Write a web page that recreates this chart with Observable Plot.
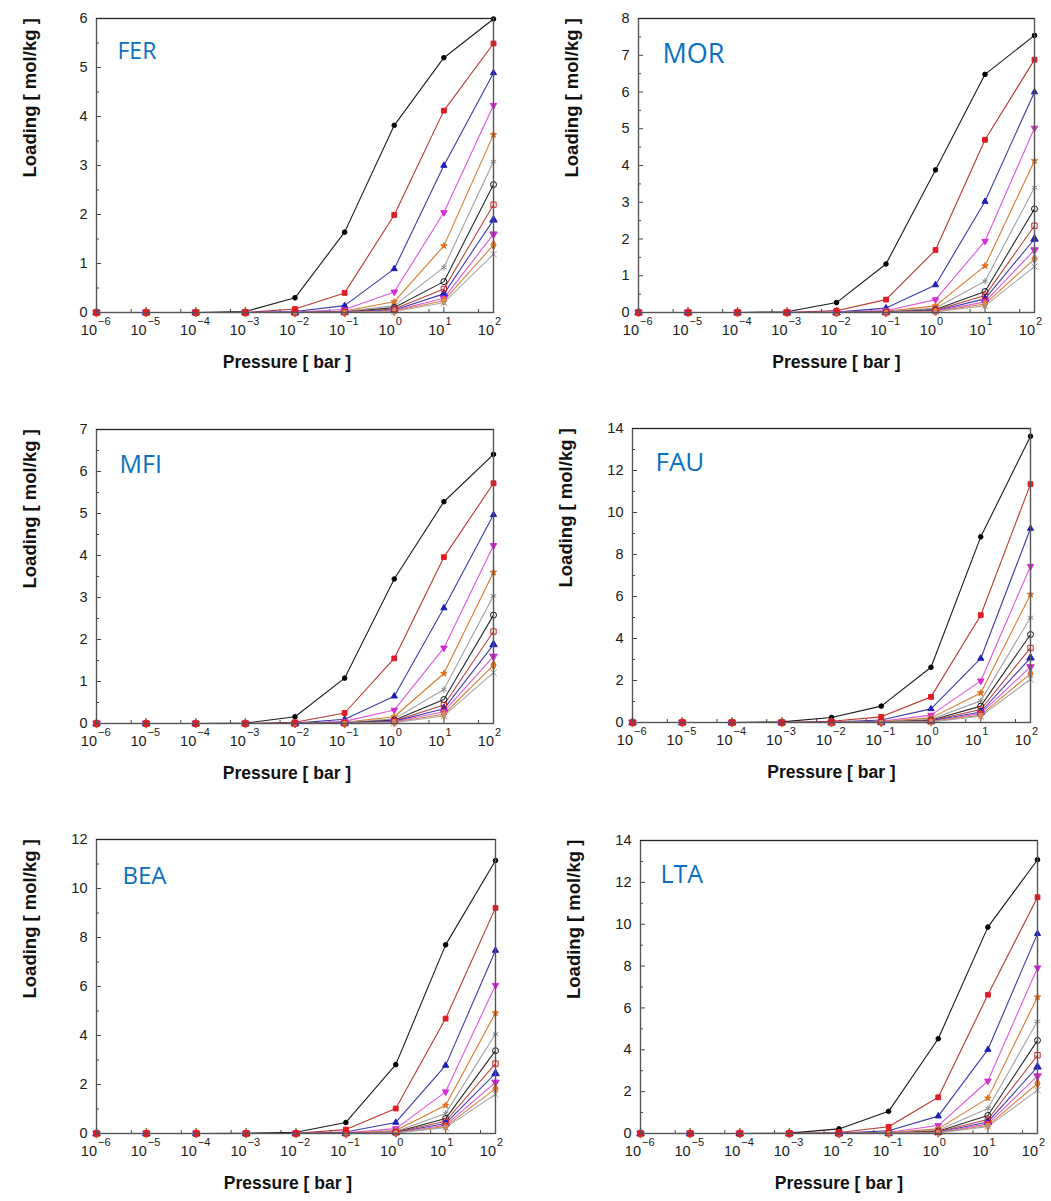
<!DOCTYPE html>
<html><head><meta charset="utf-8">
<script src="https://cdn.jsdelivr.net/npm/d3@7"></script>
<script src="https://cdn.jsdelivr.net/npm/@observablehq/plot@0.6"></script>
<style>
html,body{margin:0;padding:0;background:#fff;}
#root{position:relative;width:1051px;height:1201px;overflow:hidden;background:#fff;}
.panel{position:absolute;}
</style></head><body><div id="root"></div>
<script>
// ---------- DATA ----------
const pressures = [1e-6, 1e-5, 1e-4, 1e-3, 1e-2, 1e-1, 1, 10, 100];
const pressureExponents = ["−6", "−5", "−4", "−3", "−2", "−1", "0", "1", "2"];
const minorPressures = [5e-6, 5e-5, 5e-4, 5e-3, 5e-2, 5e-1, 5, 50];

const FER = [
  [0, 0, 0, 0.02, 0.30, 1.64, 3.82, 5.20, 5.99],
  [0, 0, 0, 0, 0.07, 0.40, 1.99, 4.12, 5.49],
  [0, 0, 0, 0, 0.02, 0.14, 0.89, 3.00, 4.89],
  [0, 0, 0, 0, 0.01, 0.06, 0.42, 2.04, 4.23],
  [0, 0, 0, 0, 0, 0.03, 0.22, 1.36, 3.63],
  [0, 0, 0, 0, 0, 0.02, 0.14, 0.92, 3.08],
  [0, 0, 0, 0, 0, 0.01, 0.10, 0.63, 2.61],
  [0, 0, 0, 0, 0, 0.01, 0.07, 0.48, 2.20],
  [0, 0, 0, 0, 0, 0.01, 0.05, 0.38, 1.89],
  [0, 0, 0, 0, 0, 0, 0.04, 0.29, 1.60],
  [0, 0, 0, 0, 0, 0, 0.03, 0.24, 1.38],
  [0, 0, 0, 0, 0, 0, 0.02, 0.20, 1.19]
];
const MOR = [
  [0, 0, 0, 0.02, 0.27, 1.32, 3.88, 6.48, 7.54],
  [0, 0, 0, 0, 0.05, 0.35, 1.70, 4.70, 6.88],
  [0, 0, 0, 0, 0.01, 0.12, 0.75, 3.02, 6.00],
  [0, 0, 0, 0, 0.01, 0.05, 0.35, 1.94, 5.02],
  [0, 0, 0, 0, 0, 0.03, 0.18, 1.27, 4.13],
  [0, 0, 0, 0, 0, 0.02, 0.12, 0.85, 3.40],
  [0, 0, 0, 0, 0, 0.01, 0.08, 0.57, 2.82],
  [0, 0, 0, 0, 0, 0.01, 0.06, 0.46, 2.36],
  [0, 0, 0, 0, 0, 0.01, 0.05, 0.37, 2.00],
  [0, 0, 0, 0, 0, 0, 0.04, 0.29, 1.70],
  [0, 0, 0, 0, 0, 0, 0.03, 0.23, 1.46],
  [0, 0, 0, 0, 0, 0, 0.02, 0.18, 1.25]
];
const MFI = [
  [0, 0, 0, 0.01, 0.16, 1.08, 3.44, 5.28, 6.41],
  [0, 0, 0, 0, 0.03, 0.25, 1.55, 3.96, 5.72],
  [0, 0, 0, 0, 0.01, 0.10, 0.65, 2.75, 4.97],
  [0, 0, 0, 0, 0, 0.05, 0.32, 1.80, 4.24],
  [0, 0, 0, 0, 0, 0.03, 0.16, 1.19, 3.60],
  [0, 0, 0, 0, 0, 0.02, 0.11, 0.81, 3.04],
  [0, 0, 0, 0, 0, 0.01, 0.08, 0.57, 2.58],
  [0, 0, 0, 0, 0, 0.01, 0.06, 0.44, 2.19],
  [0, 0, 0, 0, 0, 0.01, 0.05, 0.35, 1.88],
  [0, 0, 0, 0, 0, 0, 0.04, 0.28, 1.60],
  [0, 0, 0, 0, 0, 0, 0.03, 0.22, 1.39],
  [0, 0, 0, 0, 0, 0, 0.02, 0.18, 1.21]
];
const FAU = [
  [0, 0, 0, 0.03, 0.24, 0.78, 2.63, 8.84, 13.63],
  [0, 0, 0, 0, 0.06, 0.27, 1.22, 5.11, 11.35],
  [0, 0, 0, 0, 0.02, 0.12, 0.65, 3.05, 9.24],
  [0, 0, 0, 0, 0.01, 0.06, 0.35, 1.98, 7.44],
  [0, 0, 0, 0, 0, 0.04, 0.22, 1.41, 6.10],
  [0, 0, 0, 0, 0, 0.03, 0.15, 1.03, 5.00],
  [0, 0, 0, 0, 0, 0.02, 0.11, 0.78, 4.19],
  [0, 0, 0, 0, 0, 0.02, 0.08, 0.62, 3.55],
  [0, 0, 0, 0, 0, 0.01, 0.07, 0.50, 3.08],
  [0, 0, 0, 0, 0, 0.01, 0.05, 0.43, 2.65],
  [0, 0, 0, 0, 0, 0.01, 0.04, 0.35, 2.33],
  [0, 0, 0, 0, 0, 0.01, 0.03, 0.30, 2.06]
];
const BEA = [
  [0, 0, 0, 0.01, 0.05, 0.45, 2.81, 7.70, 11.14],
  [0, 0, 0, 0, 0.01, 0.16, 1.02, 4.69, 9.21],
  [0, 0, 0, 0, 0, 0.06, 0.45, 2.78, 7.47],
  [0, 0, 0, 0, 0, 0.03, 0.20, 1.70, 6.05],
  [0, 0, 0, 0, 0, 0.02, 0.12, 1.15, 4.92],
  [0, 0, 0, 0, 0, 0.01, 0.08, 0.82, 4.06],
  [0, 0, 0, 0, 0, 0.01, 0.06, 0.61, 3.38],
  [0, 0, 0, 0, 0, 0.01, 0.05, 0.50, 2.85],
  [0, 0, 0, 0, 0, 0.01, 0.04, 0.41, 2.45],
  [0, 0, 0, 0, 0, 0, 0.03, 0.34, 2.09],
  [0, 0, 0, 0, 0, 0, 0.03, 0.28, 1.83],
  [0, 0, 0, 0, 0, 0, 0.02, 0.24, 1.60]
];
const LTA = [
  [0, 0, 0, 0.02, 0.22, 1.06, 4.53, 9.86, 13.08],
  [0, 0, 0, 0, 0.05, 0.32, 1.73, 6.63, 11.29],
  [0, 0, 0, 0, 0.02, 0.13, 0.83, 4.01, 9.55],
  [0, 0, 0, 0, 0.01, 0.06, 0.38, 2.51, 7.92],
  [0, 0, 0, 0, 0, 0.04, 0.22, 1.69, 6.52],
  [0, 0, 0, 0, 0, 0.03, 0.15, 1.19, 5.36],
  [0, 0, 0, 0, 0, 0.02, 0.11, 0.86, 4.45],
  [0, 0, 0, 0, 0, 0.02, 0.08, 0.67, 3.74],
  [0, 0, 0, 0, 0, 0.01, 0.06, 0.55, 3.18],
  [0, 0, 0, 0, 0, 0.01, 0.05, 0.46, 2.75],
  [0, 0, 0, 0, 0, 0.01, 0.04, 0.38, 2.39],
  [0, 0, 0, 0, 0, 0.01, 0.03, 0.33, 2.07]
];

const panelNames = ["FER", "MOR", "MFI", "FAU", "BEA", "LTA"];
const panelSeries = [FER, MOR, MFI, FAU, BEA, LTA];
const panelYMax = [6, 8, 7, 14, 12, 14];
const panelYStep = [1, 1, 1, 2, 2, 2];
const xLabel = "Pressure [ bar ]";
const yLabel = "Loading [ mol/kg ]";

// ---------- STYLES / LAYOUT ----------
const triDown = {
  draw(ctx, size) {
    const y = -Math.sqrt(size / (Math.sqrt(3) * 3));
    ctx.moveTo(0, -y * 2);
    ctx.lineTo(-Math.sqrt(3) * y, y);
    ctx.lineTo(Math.sqrt(3) * y, y);
    ctx.closePath();
  }
};
const seriesStyle = [
  {line: "#1a1a1a", symbol: "circle", fill: "#000", stroke: "#000", r: 2.3},
  {line: "#b8372f", symbol: "square", fill: "#e01b24", stroke: "#e01b24", r: 2.7},
  {line: "#3a3aa8", symbol: "triangle", fill: "#1d1db8", stroke: "#1d1db8", r: 2.3},
  {line: "#e055e0", symbol: triDown, fill: "#d62bd6", stroke: "#d62bd6", r: 2.4},
  {line: "#d57a2c", symbol: "star", fill: "#e07020", stroke: "#e07020", r: 2.0},
  {line: "#a0a0a0", symbol: "asterisk", fill: "none", stroke: "#8a8a8a", r: 3},
  {line: "#2a2a2a", symbol: "circle", fill: "none", stroke: "#111", r: 3},
  {line: "#b5443c", symbol: "square", fill: "none", stroke: "#d02020", r: 3},
  {line: "#3d3db0", symbol: "triangle", fill: "#2020c0", stroke: "#2020c0", r: 2.8},
  {line: "#d85ad8", symbol: triDown, fill: "#cc33cc", stroke: "#cc33cc", r: 2.8},
  {line: "#d88040", symbol: "diamond", fill: "#f08a40", stroke: "#d07030", r: 2.8},
  {line: "#aaaaaa", symbol: "times", fill: "none", stroke: "#999", r: 3}
];
const layout = [
  {left: 0,   top: 0,   width: 525, height: 400, mL: 96,  mR: 32, mT: 18, mB: 88, xlDx: -8, nDx: 21, nDy: 40, nSize: 23},
  {left: 540, top: 0,   width: 511, height: 400, mL: 98,  mR: 17, mT: 18, mB: 88, xlDx: 0,  nDx: 24, nDy: 44, nSize: 27},
  {left: 0,   top: 410, width: 525, height: 400, mL: 96,  mR: 32, mT: 19, mB: 87, xlDx: -8, nDx: 23, nDy: 43, nSize: 25},
  {left: 540, top: 410, width: 511, height: 400, mL: 92,  mR: 21, mT: 18, mB: 88, xlDx: 0,  nDx: 23, nDy: 42, nSize: 26},
  {left: 0,   top: 820, width: 525, height: 381, mL: 96,  mR: 30, mT: 19, mB: 68, xlDx: -8, nDx: 26, nDy: 44, nSize: 24},
  {left: 540, top: 820, width: 511, height: 381, mL: 100, mR: 14, mT: 20, mB: 68, xlDx: 0,  nDx: 20, nDy: 42, nSize: 25}
];

const root = document.getElementById("root");
const drawOrder = [0, 2, 3, 4, 5, 6, 8, 9, 10, 11, 7, 1];

panelNames.forEach((name, k) => {
  const L = layout[k];
  const series = panelSeries[k];
  const ymax = panelYMax[k], step = panelYStep[k];
  const pw = L.width - L.mL - L.mR, ph = L.height - L.mT - L.mB;
  const yMajor = d3.range(0, ymax + 1e-9, step);
  const yMinor = d3.range(step / 2, ymax, step);

  const marks = [
    Plot.tickY(yMajor, {y: d => d, insetRight: pw - 5, stroke: "#444", strokeWidth: 1}),
    Plot.tickY(yMinor, {y: d => d, insetRight: pw - 3, stroke: "#444", strokeWidth: 1}),
    Plot.tickX(pressures, {x: d => d, insetTop: ph - 5, stroke: "#444", strokeWidth: 1}),
    Plot.tickX(minorPressures, {x: d => d, insetTop: ph - 3, stroke: "#444", strokeWidth: 1})
  ];
  series.forEach((vals, i) => {
    const rows = pressures.map((p, j) => ({p, v: vals[j]}));
    marks.push(Plot.line(rows, {x: "p", y: "v", stroke: seriesStyle[i].line, strokeWidth: 1.1}));
  });
  drawOrder.forEach(i => {
    const s = seriesStyle[i];
    const rows = pressures.map((p, j) => ({p, v: series[i][j]}));
    marks.push(Plot.dot(rows, {x: "p", y: "v", symbol: s.symbol, r: s.r, fill: s.fill, stroke: s.stroke, strokeWidth: 1}));
  });
  marks.push(
    Plot.frame({stroke: "#555", strokeWidth: 1.4}),
    Plot.ruleY([ymax], {stroke: "#222", strokeWidth: 1.2}),
    Plot.text(yMajor, {y: d => d, frameAnchor: "left", text: d => String(d), textAnchor: "end", dx: -9, fontSize: 14.5, fill: "#1a1a1a"}),
    Plot.text(pressures, {x: d => d, frameAnchor: "bottom", text: () => "10", textAnchor: "end", dx: 0.5, dy: 22, fontSize: 14.5, fill: "#1a1a1a"}),
    Plot.text(pressures, {x: d => d, frameAnchor: "bottom", text: (d, i) => pressureExponents[i], textAnchor: "start", dx: 1.5, dy: 12, fontSize: 11, fill: "#1a1a1a"}),
    Plot.text([xLabel], {frameAnchor: "bottom", text: d => d, dx: L.xlDx, dy: 55, fontSize: 17.5, fontWeight: "bold", fill: "#111"}),
    Plot.text([yLabel], {frameAnchor: "left", text: d => d, rotate: -90, dx: -66, dy: 12, fontSize: 18.5, fontWeight: "bold", fill: "#111"}),
    Plot.text([name], {frameAnchor: "top-left", text: d => d, textAnchor: "start", lineAnchor: "bottom", dx: L.nDx, dy: L.nDy, fontSize: L.nSize, fill: "#0b70c0", fontFamily: "Open Sans"})
  );

  const chart = Plot.plot({
    width: L.width, height: L.height,
    marginLeft: L.mL, marginRight: L.mR, marginTop: L.mT, marginBottom: L.mB,
    x: {type: "log", domain: [1e-6, 1e2], axis: null},
    y: {domain: [0, ymax], axis: null},
    style: {fontFamily: "'Liberation Sans', Arial, sans-serif", background: "transparent", overflow: "visible"},
    marks
  });
  const div = document.createElement("div");
  div.className = "panel";
  div.style.left = L.left + "px";
  div.style.top = L.top + "px";
  div.appendChild(chart);
  root.appendChild(div);
});
</script>
</body></html>
